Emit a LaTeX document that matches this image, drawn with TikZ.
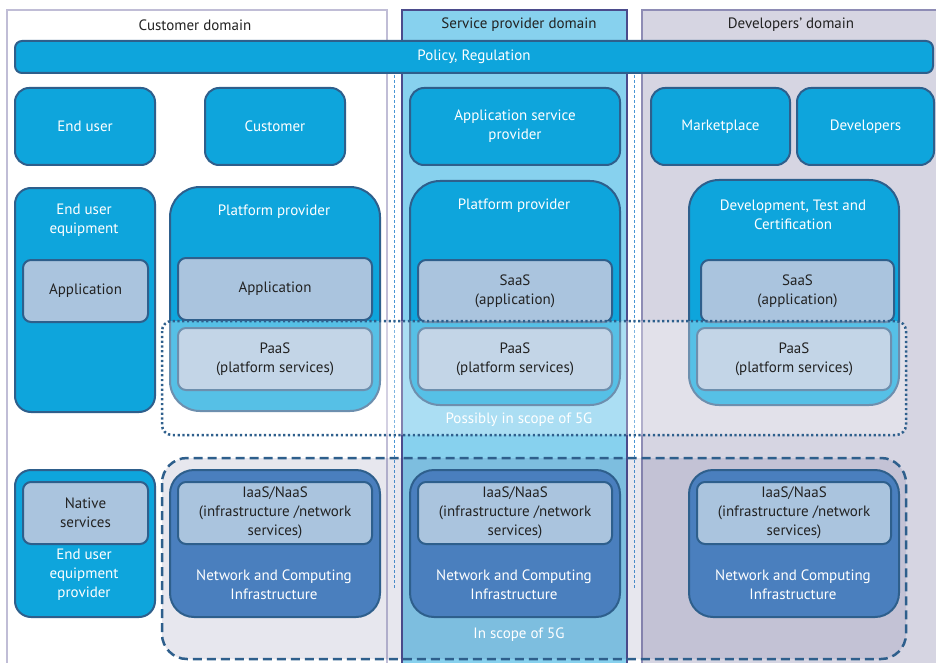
\documentclass[tikz,border=0pt]{standalone}
\usepackage{fontspec}
\setmainfont{PT Sans}
\definecolor{bbox}{HTML}{0EA5DC}
\definecolor{bordc}{HTML}{2E5F8C}
\definecolor{ibox}{HTML}{AAC4DE}
\definecolor{nbox}{HTML}{4A7FBE}
\definecolor{svcfill}{HTML}{87D1EE}
\definecolor{svcline}{HTML}{4B4B8C}
\definecolor{devfill}{HTML}{D6D5E2}
\definecolor{devline}{HTML}{8E8CB5}
\definecolor{custline}{HTML}{C0BDD6}
\definecolor{vdash}{HTML}{4A96D4}
\definecolor{scopefill}{HTML}{3C3C78}
\definecolor{txt}{HTML}{222222}
\begin{document}
\begin{tikzpicture}[x=1pt,y=-1pt,
  every node/.style={font=\fontsize{15}{19}\selectfont, inner sep=0pt, align=center},
  box/.style={draw=bordc, line width=2pt, anchor=north west},
  bluebox/.style={box, fill=bbox, rounded corners=14pt, text=white},
  innerbox/.style={box, fill=ibox, rounded corners=8pt, text=txt},
  netbox/.style={box, fill=nbox, rounded corners=24pt, text=white},
  wtext/.style={text=white},
  dtext/.style={text=txt},
  vsep/.style={draw=vdash, line width=0.8pt, dash pattern=on 3pt off 2pt}
]
\useasboundingbox (0,0) rectangle (936,663);
\fill[white] (0,0) rectangle (936,663);
% domains
\draw[draw=custline, line width=1.5pt, fill=white] (7,10) rectangle (387,675);
\draw[draw=svcline, line width=1.5pt, fill=svcfill] (402,10) rectangle (627,675);
\draw[draw=devline, line width=1.5pt, fill=devfill] (642,10) rectangle (940,675);
\node[text=txt] (custT) at (195,25) {Customer domain};
\node[text=txt] (svcT) at (519,25) {Service provider domain};
\node[text=txt] (devT) at (791,25) {Developers’ domain};
% vertical separators
\coordinate (s1a) at (394,75); \coordinate (s1b) at (394,588);
\coordinate (s2a) at (634,75); \coordinate (s2b) at (634,588);
\draw[vsep] (s1a) -- (s1b);
\draw[vsep] (s2a) -- (s2b);
% policy bar
\node[bluebox, rounded corners=7pt, minimum width=918pt, minimum height=32pt] (policy) at (14,40) {};
\node[wtext] (policyT) at (policy.center) {Policy, Regulation};
% row 1
\node[bluebox, minimum width=140pt, minimum height=77pt] (enduser) at (14,87) {End user};
\node[bluebox, minimum width=140pt, minimum height=77pt] (customer) at (204,87) {Customer};
\node[bluebox, minimum width=210pt, minimum height=77pt] (asp) at (409,87) {Application service\\provider};
\node[bluebox, minimum width=139pt, minimum height=77pt] (market) at (650,87) {Marketplace};
\node[bluebox, minimum width=137pt, minimum height=77pt] (devs) at (796,87) {Developers};
% in scope region
\draw[bordc, line width=2.5pt, dash pattern=on 9pt off 5pt, fill=scopefill, fill opacity=0.12, rounded corners=25pt] (162,458) rectangle (906,659);
% row 2
\node[bluebox, rounded corners=16pt, minimum width=140pt, minimum height=224pt] (eue) at (14,187) {};
\node[wtext] (eueT) at (84,220) {End user\\equipment};
\node[innerbox, minimum width=125pt, minimum height=62pt] (app1) at (22,259) {Application};
\node[bluebox, rounded corners=30pt, minimum width=210pt, minimum height=224pt] (pp1) at (169,186) {};
\node[wtext] (pp1T) at (274,212) {Platform provider};
\node[innerbox, minimum width=194pt, minimum height=62pt] (app2) at (177,257) {Application};
\node[innerbox, minimum width=194pt, minimum height=62pt] (paas1) at (177,327) {};
\node[bluebox, rounded corners=30pt, minimum width=210pt, minimum height=224pt] (pp2) at (409,180) {};
\node[wtext] (pp2T) at (514,206) {Platform provider};
\node[innerbox, minimum width=194pt, minimum height=62pt] (saas2) at (417,259) {SaaS\\(application)};
\node[innerbox, minimum width=194pt, minimum height=62pt] (paas2) at (417,327) {};
\node[bluebox, rounded corners=30pt, minimum width=210pt, minimum height=225pt] (dtc) at (688,179) {};
\node[wtext] (dtcT) at (793,215) {Development, Test and\\Certification};
\node[innerbox, minimum width=193pt, minimum height=62pt] (saas3) at (700,259) {SaaS\\(application)};
\node[innerbox, minimum width=194pt, minimum height=62pt] (paas3) at (696,327) {};
% possibly in scope overlay
\draw[bordc, line width=2.5pt, dash pattern=on 2.2pt off 2.6pt, fill=white, fill opacity=0.3, rounded corners=10pt] (162,321) rectangle (906,435);
\node[dtext] (paas1T) at (paas1.center) {PaaS\\(platform services)};
\node[dtext] (paas2T) at (paas2.center) {PaaS\\(platform services)};
\node[dtext] (paas3T) at (paas3.center) {PaaS\\(platform services)};
\node[wtext] (possT) at (519,420) {Possibly in scope of 5G};
% row 3
\node[bluebox, rounded corners=16pt, minimum width=140pt, minimum height=147pt] (euep) at (14,469) {};
\node[innerbox, minimum width=125pt, minimum height=62pt] (native) at (22,481) {Native\\services};
\node[wtext] (euepT) at (84,575) {End user\\equipment\\provider};
\node[netbox, minimum width=210pt, minimum height=147pt] (nc1) at (169,469) {};
\node[innerbox, minimum width=194pt, minimum height=62pt] (iaas1) at (177,481) {IaaS/NaaS\\(infrastructure /network\\services)};
\node[wtext] (nc1T) at (274,585) {Network and Computing\\Infrastructure};
\node[netbox, minimum width=210pt, minimum height=147pt] (nc2) at (409,469) {};
\node[innerbox, minimum width=194pt, minimum height=62pt] (iaas2) at (417,481) {IaaS/NaaS\\(infrastructure /network\\services)};
\node[wtext] (nc2T) at (514,585) {Network and Computing\\Infrastructure};
\node[netbox, minimum width=210pt, minimum height=147pt] (nc3) at (688,469) {};
\node[innerbox, minimum width=194pt, minimum height=62pt] (iaas3) at (696,481) {IaaS/NaaS\\(infrastructure /network\\services)};
\node[wtext] (nc3T) at (793,585) {Network and Computing\\Infrastructure};
\node[wtext] (inT) at (519,635) {In scope of 5G};
\end{tikzpicture}
\end{document}
